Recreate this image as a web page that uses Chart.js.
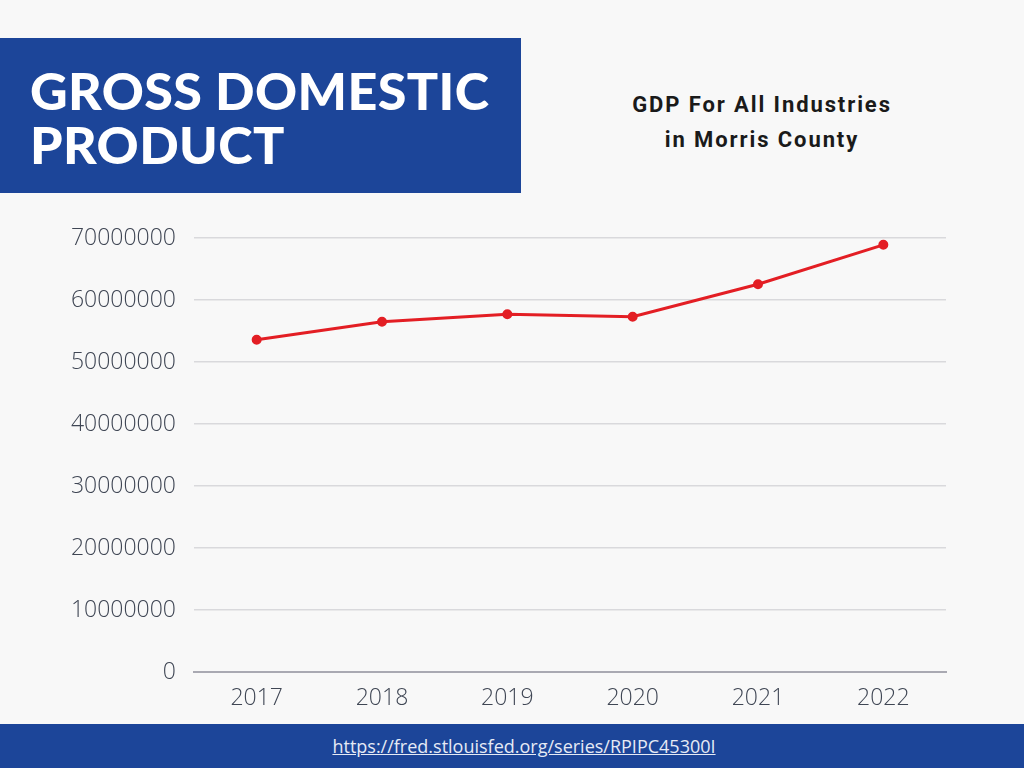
<!DOCTYPE html>
<html>
<head>
<meta charset="utf-8">
<script src="https://cdn.jsdelivr.net/npm/chart.js@4"></script>
<style>
    html, body { margin: 0; padding: 0; }
    body { width: 1024px; height: 768px; background: #f8f8f8; position: relative; overflow: hidden; }
    .title-box {
        position: absolute; left: 0; top: 38px; width: 521px; height: 155px;
        background: #1c4599; color: #fff;
        font-family: "Lato", sans-serif; font-weight: 900; font-size: 52px;
        line-height: 54px; letter-spacing: 0.4px;
        box-sizing: border-box; padding: 25px 0 0 30px;
    }
    .subtitle {
        position: absolute; left: 562px; top: 87px; width: 400px; text-align: center;
        font-family: "Roboto", sans-serif; font-weight: 700; font-size: 22px;
        line-height: 35px; letter-spacing: 1.9px; color: #1a1a1a;
    }
    .footer {
        position: absolute; left: 0; top: 724px; width: 1024px; height: 44px;
        background: #1c4599; text-align: center;
        box-sizing: border-box; padding-left: 24px;
        font-family: "Open Sans", sans-serif; font-size: 18px; line-height: 44px;
    }
    .footer a { color: #e6eaf5; }
    #chartWrap { position: absolute; left: 0; top: 200px; width: 1024px; height: 524px; }
</style>
</head>
<body>
<div class="title-box">GROSS DOMESTIC<br>PRODUCT</div>
<div class="subtitle">GDP For All Industries<br>in Morris County</div>
<div id="chartWrap"><canvas id="gdpChart"></canvas></div>
<div class="footer"><a href="https://fred.stlouisfed.org/series/RPIPC45300I">https://fred.stlouisfed.org/series/RPIPC45300I</a></div>

<script>
// Chart data
const years = ['2017', '2018', '2019', '2020', '2021', '2022'];
const gdpValues = [53600000, 56500000, 57700000, 57300000, 62550000, 68900000];
const yTicks = [0, 10000000, 20000000, 30000000, 40000000, 50000000, 60000000, 70000000];

document.addEventListener('DOMContentLoaded', function() {
    const ctx = document.getElementById('gdpChart').getContext('2d');

    new Chart(ctx, {
        type: 'line',
        data: {
            labels: years,
            datasets: [{
                label: 'GDP',
                data: gdpValues,
                borderColor: '#e31e24',
                backgroundColor: '#e31e24',
                borderWidth: 3,
                pointRadius: 3.5,
                pointHoverRadius: 3.5,
                tension: 0
            }]
        },
        options: {
            responsive: true,
            maintainAspectRatio: false,
            animation: false,
            layout: { padding: { top: 38, right: 78, left: 0, bottom: 0 } },
            plugins: {
                legend: { display: false },
                tooltip: { enabled: false }
            },
            scales: {
                x: {
                    offset: true,
                    grid: { display: false },
                    border: { color: '#a9a9b2', width: 2 },
                    ticks: {
                        color: '#3f4654',
                        padding: 5,
                        font: { family: 'Open Sans', size: 23, weight: 300 }
                    },
                    afterFit: (scale) => { scale.height = 52; }
                },
                y: {
                    min: 0,
                    max: 70000000,
                    afterBuildTicks: (scale) => {
                        scale.ticks = yTicks.map(v => ({ value: v }));
                    },
                    grid: {
                        color: (c) => c.tick && c.tick.value === 0 ? 'rgba(0,0,0,0)' : '#d9d9dc',
                        lineWidth: 1.5,
                        drawTicks: false
                    },
                    border: { display: false },
                    ticks: {
                        color: '#3f4654',
                        padding: 18,
                        font: { family: 'Open Sans', size: 23, weight: 300 },
                        callback: (v) => String(v)
                    },
                    afterFit: (scale) => { scale.width = 194; }
                }
            }
        }
    });
});
</script>
</body>
</html>
